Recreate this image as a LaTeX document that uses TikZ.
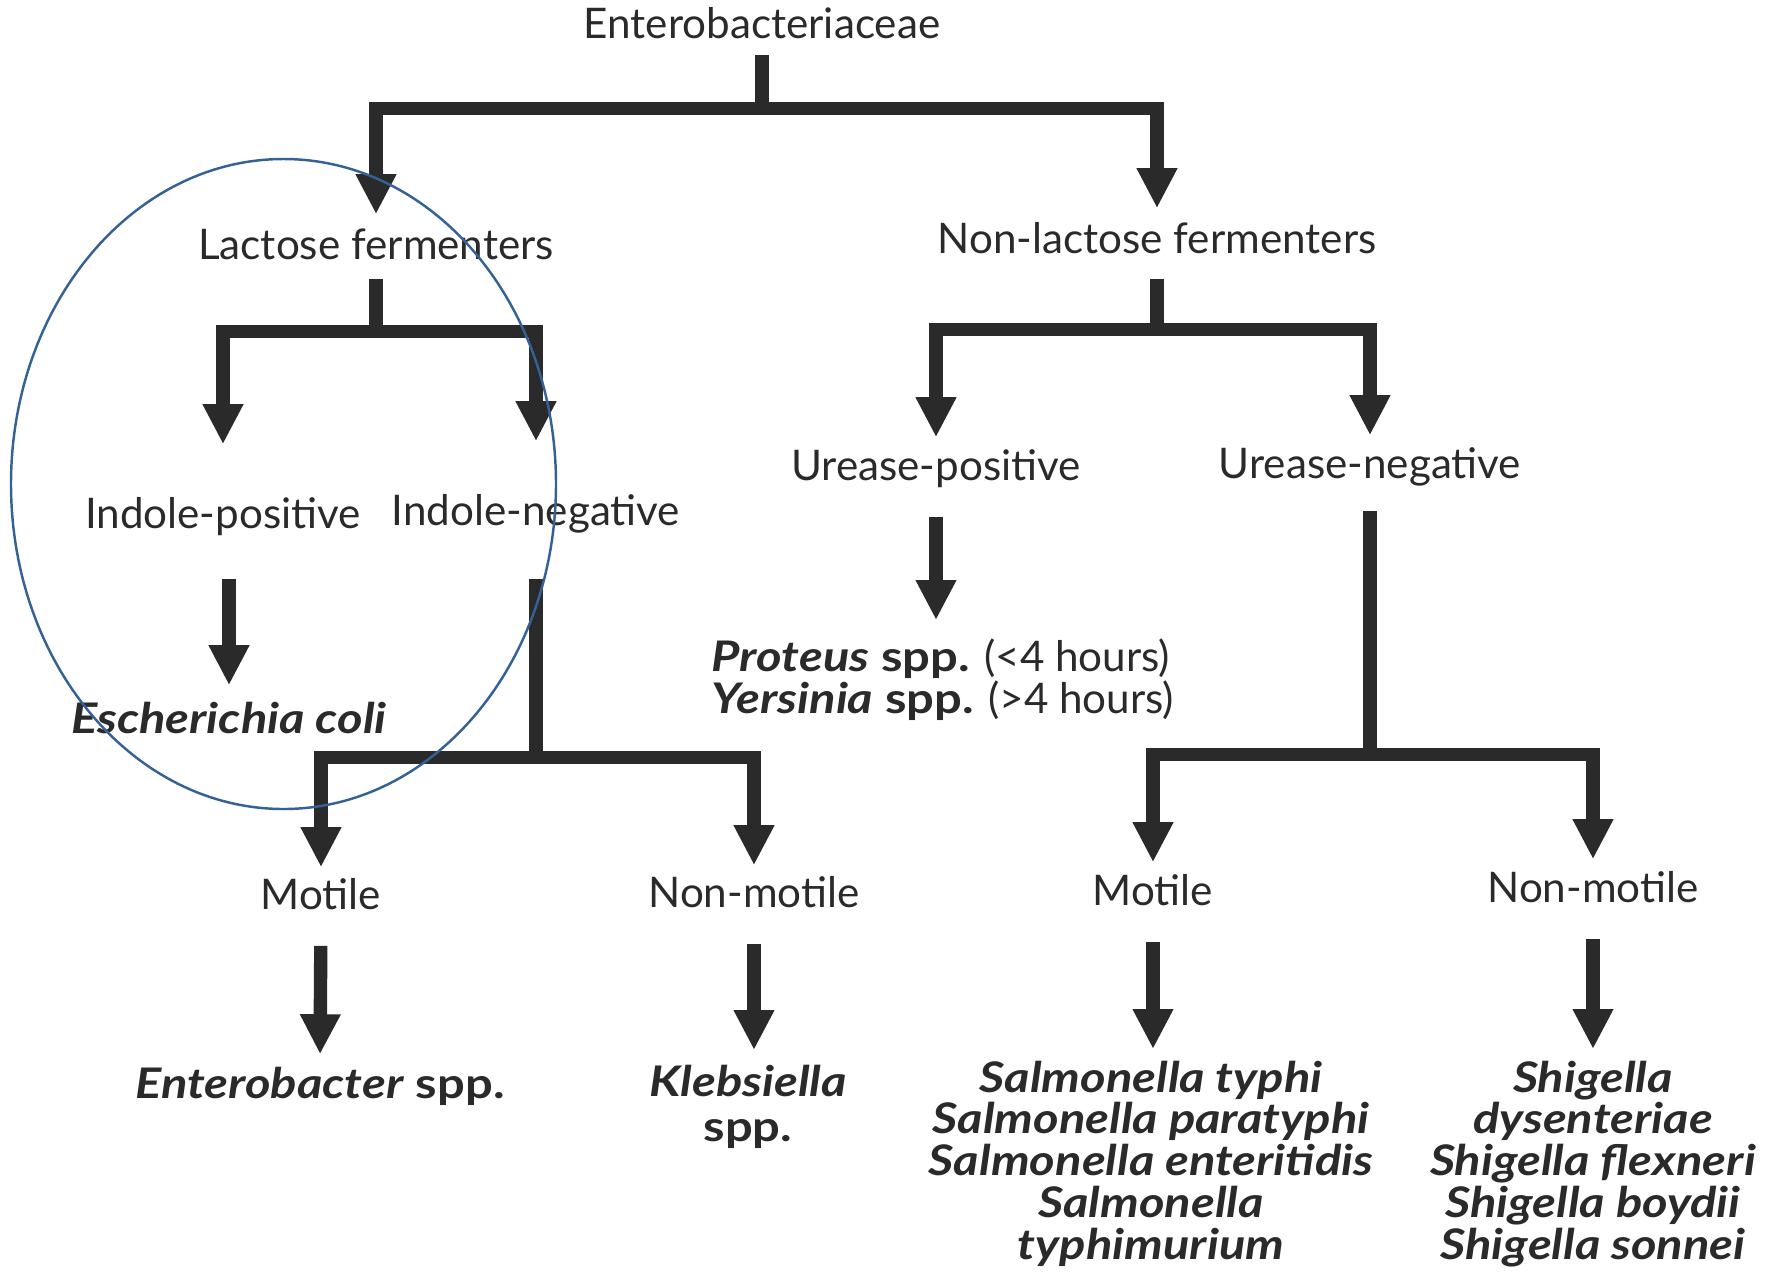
\documentclass[tikz,border=0pt]{standalone}
\usepackage{fontspec}
\setmainfont{Lato}[BoldFeatures={FakeStretch=1.16}, BoldItalicFeatures={FakeStretch=1.16}]
\usepackage{xcolor}
\usetikzlibrary{arrows.meta}
\definecolor{ink}{RGB}{42,42,42}
\definecolor{ringblue}{RGB}{52,98,150}

\begin{document}
\begin{tikzpicture}[>={Triangle[width=3.8mm,length=4mm]},
  lbl/.style={font=\fontsize{12}{14}\selectfont, text=ink, inner sep=0pt, text height=10.3pt, text depth=1.7pt},
  spbold/.style={lbl, font=\fontsize{12}{14}\selectfont\bfseries},
  spname/.style={lbl, font=\fontsize{12}{14}\selectfont\bfseries\itshape},
  taxa/.style={font=\fontsize{12}{11.9}\selectfont\bfseries\itshape, text=ink, inner sep=0pt, align=center, anchor=north},
  fork/.style={->, draw=ink, line width=3.8pt},
  ring/.style={draw=ringblue, line width=0.7pt}]
  \useasboundingbox (0,0) rectangle (17.78,-12.75);

  % labels
  \node[lbl] (ent) at (7.62,-0.23) {Enterobacteriaceae};
  \node[lbl] (lac) at (3.76,-2.44) {Lactose fermenters};
  \node[lbl] (nonlac) at (11.57,-2.38) {Non-lactose fermenters};
  \node[lbl] (ipos) at (2.23,-5.13) {Indole-positive};
  \node[lbl] (ineg) at (5.36,-5.10) {Indole-negative};
  \node[spname] (ecoli) at (2.29,-7.18) {Escherichia coli};
  \node[lbl] (mot1) at (3.21,-8.94) {Motile};
  \node[lbl] (nonmot1) at (7.54,-8.92) {Non-motile};
  \node[spbold] (entb) at (3.20,-10.83) {\textit{Enterobacter} spp.};
  \node[taxa, font=\fontsize{12}{12.8}\selectfont\bfseries\itshape] (kleb) at (7.48,-10.64) {Klebsiella\\\textup{spp.}};
  \node[lbl] (upos) at (9.36,-4.65) {Urease-positive};
  \node[lbl] (uneg) at (13.70,-4.63) {Urease-negative};
  \node[taxa, font=\fontsize{12}{11.9}\selectfont, align=left] (prot) at (9.43,-6.38)
    {\textbf{\textit{Proteus} spp.} (<4 hours)\\\textbf{\textit{Yersinia} spp.} (>4 hours)};
  \node[lbl] (mot2) at (11.53,-8.90) {Motile};
  \node[lbl] (nonmot2) at (15.93,-8.87) {Non-motile};
  \node[taxa] (salm) at (11.51,-10.60) {Salmonella typhi\\Salmonella paratyphi\\Salmonella enteritidis\\Salmonella\\typhimurium};
  \node[taxa] (shig) at (15.93,-10.60) {Shigella\\dysenteriae\\Shigella flexneri\\Shigella boydii\\Shigella sonnei};

  % forks
  \draw[fork, shorten <=1mm, shorten >=0.8mm] (ent.south) -- ++(0,-0.64) -| (lac.north);
  \draw[fork, shorten <=1mm, shorten >=0.8mm] (ent.south) -- ++(0,-0.64) -| (nonlac.north);
  \draw[fork, shorten <=1.3mm, shorten >=4.7mm] (lac.south) -- ++(0,-0.66) -| (ipos.north);
  \draw[fork, shorten <=1.3mm, shorten >=4.7mm] (lac.south) -- ++(0,-0.66) -| (ineg.north);
  \draw[fork, shorten <=4.7mm, shorten >=0.5mm] (ineg.south) -- ++(0,-2.26) -| (mot1.north);
  \draw[fork, shorten <=4.7mm, shorten >=0.5mm] (ineg.south) -- ++(0,-2.26) -| (nonmot1.north);
  \draw[fork, shorten <=1.9mm, shorten >=0.6mm] (nonlac.south) -- ++(0,-0.70) -| (upos.north);
  \draw[fork, shorten <=1.9mm, shorten >=0.6mm] (nonlac.south) -- ++(0,-0.70) -| (uneg.north);
  \draw[fork, shorten <=2.6mm, shorten >=0.6mm] (uneg.south) -- ++(0,-2.70) -| (mot2.north);
  \draw[fork, shorten <=2.6mm, shorten >=0.6mm] (uneg.south) -- ++(0,-2.70) -| (nonmot2.north);

  % single arrows
  \draw[fork, shorten <=4.4mm, shorten >=1.1mm] (ipos.south -| ecoli.north) -- (ecoli.north);
  \draw[fork, shorten <=3mm, shorten >=0.7mm] (mot1.south) -- (entb.north);
  \draw[fork, shorten <=3mm, shorten >=1.4mm] (nonmot1.south) -- (nonmot1.south |- kleb.north);
  \draw[fork, shorten <=3mm, shorten >=1.8mm] (upos.south) -- (upos.south |- prot.north);
  \draw[fork, shorten <=3mm, shorten >=1.1mm] (mot2.south) -- (mot2.south |- salm.north);
  \draw[fork, shorten <=3mm, shorten >=1.1mm] (nonmot2.south) -- (nonmot2.south |- shig.north);

  % highlight
  \draw[ring] (2.835,-4.84) ellipse [x radius=2.725, y radius=3.25];
\end{tikzpicture}
\end{document}
